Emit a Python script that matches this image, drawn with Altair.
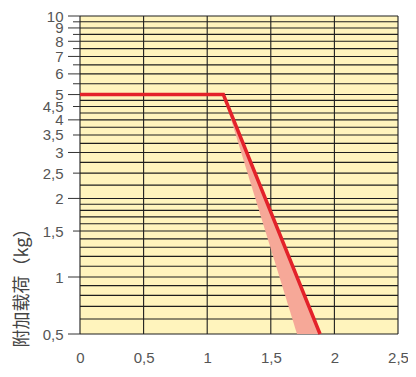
import altair as alt
import pandas as pd

# y grid lines (kg)
y_grid = [10, 9.5, 9, 8.5, 8, 7.5, 7, 6.5, 6, 5.5, 5, 4.75, 4.5, 4.25, 4, 3.75, 3.5,
          3.25, 3, 2.75, 2.5, 2.25, 2, 1.9, 1.8, 1.7, 1.6, 1.5, 1.4, 1.3, 1.2, 1.1,
          1, 0.9, 0.8, 0.7, 0.6, 0.5]
y_labels = [10, 9, 8, 7, 6, 5, 4.5, 4, 3.5, 3, 2.5, 2, 1.5, 1, 0.5]
y_long_ticks = [10, 9, 8, 7, 6, 5, 4, 3, 2, 1, 0.5]
y_short_ticks = [9.5, 8.5, 7.5, 6.5, 5.5, 4.5, 3.5, 2.5, 1.5]
x_grid = [0, 0.5, 1, 1.5, 2, 2.5]

# red limit curve
curve_x = [0, 1.127, 1.887]
curve_y = [5, 5, 0.5]
# pink tolerance band
band_y = [5, 0.5]
band_x_left = [1.127, 1.706]
band_x_right = [1.127, 1.887]

W, H = 318, 318
yscale = alt.Scale(type="log", domain=[0.5, 1, 10], range=[H, 261, 0], nice=False, zero=False)
xscale = alt.Scale(domain=[0, 2.5], nice=False, zero=False)

label_expr = "replace(format(datum.value, '~g'), '.', ',')"

yaxis = alt.Axis(values=y_labels, ticks=False, domain=False, grid=False,
                 labelPadding=17, labelFontSize=15, labelColor="#555555",
                 labelFont="Liberation Sans", labelExpr=label_expr,
                 labelOverlap=False, labelFlush=False, labelBound=False,
                 title="附加载荷（kg）", titleFont="Noto Sans CJK SC", titleFontSize=18,
                 titleFontWeight="normal", titleColor="#444444", titleAngle=270,
                 titleX=-58, titleY=267, titleBaseline="middle", titleAlign="center")
xaxis = alt.Axis(values=x_grid, ticks=False, domain=False, grid=False,
                 labelPadding=16, labelFontSize=15, labelColor="#555555",
                 labelFont="Liberation Sans", labelExpr=label_expr,
                 labelOverlap=False, labelFlush=False, labelBound=False, title="")

grid_col = "#1e1e1e"

hgrid = alt.Chart(pd.DataFrame({"v": y_grid})).mark_rule(color=grid_col, strokeWidth=1.1).encode(
    y=alt.Y("v:Q", scale=yscale, axis=yaxis))
vgrid = alt.Chart(pd.DataFrame({"v": x_grid})).mark_rule(color=grid_col, strokeWidth=1.1).encode(
    x=alt.X("v:Q", scale=xscale, axis=xaxis))
long_ticks = alt.Chart(pd.DataFrame({"v": y_long_ticks})).mark_rule(color="#333333", strokeWidth=1).encode(
    y=alt.Y("v:Q", scale=yscale, axis=yaxis), x=alt.value(-12), x2=alt.value(0))
short_ticks = alt.Chart(pd.DataFrame({"v": y_short_ticks})).mark_rule(color="#333333", strokeWidth=1).encode(
    y=alt.Y("v:Q", scale=yscale, axis=yaxis), x=alt.value(-7), x2=alt.value(0))

band = alt.Chart(pd.DataFrame({"v": band_y, "xl": band_x_left, "xr": band_x_right})).mark_area(
    orient="horizontal", color="#f6a898", opacity=1).encode(
    y=alt.Y("v:Q", scale=yscale, axis=yaxis),
    x=alt.X("xl:Q", scale=xscale, axis=xaxis),
    x2="xr:Q")

curve = alt.Chart(pd.DataFrame({"x": curve_x, "v": curve_y, "o": [0, 1, 2]})).mark_line(
    color="#e3222a", strokeWidth=3.5).encode(
    x=alt.X("x:Q", scale=xscale, axis=xaxis),
    y=alt.Y("v:Q", scale=yscale, axis=yaxis),
    order="o:Q")

chart = alt.layer(hgrid, vgrid, band, curve, long_ticks, short_ticks).properties(
    width=W, height=H,
    autosize=alt.AutoSizeParams(type="none"),
    padding={"left": 72, "top": 8, "right": 10, "bottom": 40},
).configure_view(fill="#fff4bd", strokeWidth=0)

chart.save("out.html", embed_options={"renderer": "svg", "actions": False})
